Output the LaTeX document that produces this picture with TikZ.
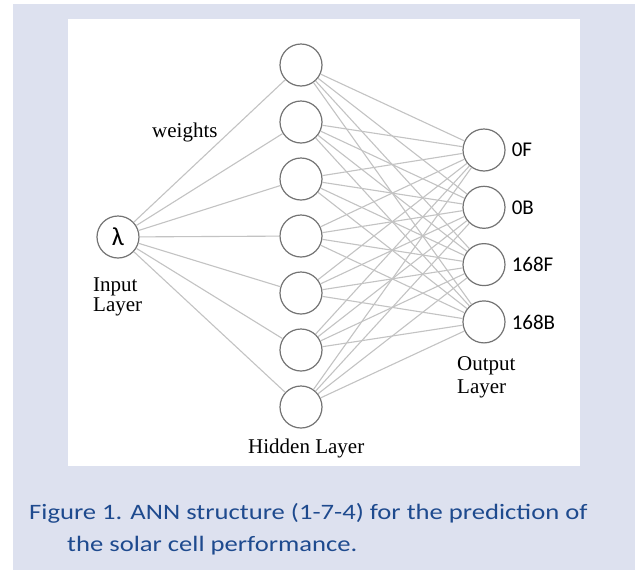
\documentclass[tikz,border=0pt]{standalone}
\usepackage{fontspec}
\setmainfont{Liberation Serif}
\newfontfamily\capfont{Carlito}
\newfontfamily\capwide[FakeStretch=1.21]{Carlito}

\definecolor{panelbg}{RGB}{221,225,239}
\definecolor{capblue}{RGB}{30,74,142}
\definecolor{linkgray}{RGB}{195,195,195}
\definecolor{ringgray}{RGB}{115,115,115}

\tikzset{
  neuron/.style={circle, draw=ringgray, line width=1.2pt, fill=white, minimum size=42pt, inner sep=0pt},
  link/.style={linkgray, line width=1.1pt},
  lbl/.style={inner sep=0pt, anchor=base west, font=\fontsize{21}{23}\selectfont},
  outlbl/.style={inner sep=0pt, anchor=west, font=\capfont\fontsize{21}{21}\selectfont},
  caption/.style={inner sep=0pt, anchor=base west, text=capblue, font=\capwide\fontsize{22}{26}\selectfont}
}

\begin{document}
\begin{tikzpicture}[x=1pt,y=-1pt]
   \useasboundingbox (0,0) rectangle (635,571);
   \fill[panelbg] (13,4) rectangle (635,570);
   \fill[white] (68,19) rectangle (580,466);

   \node[neuron, font=\capfont\fontsize{26}{26}\selectfont] (in) at (118,237) {λ};
   \foreach \i in {1,...,7} \node[neuron] (h\i) at (301,{65+57*(\i-1)}) {};
   \foreach \j/\t in {1/0F,2/0B,3/168F,4/168B} {
      \node[neuron] (o\j) at (484,{150+57.3*(\j-1)}) {};
      \node[outlbl, xshift=6pt] (t\j) at (o\j.east) {\t};
   }

   \foreach \i in {1,...,7} \draw[link] (in) -- (h\i);
   \foreach \i in {1,...,7} \foreach \j in {1,...,4} \draw[link] (h\i) -- (o\j);

   \node[lbl] (wt) at (152,137) {weights};
   \node[lbl] (inlbl) at (93,291) {Input};
   \node[lbl] (inlbl2) at (93,311) {Layer};
   \node[lbl] (hidlbl) at (248,453) {Hidden Layer};
   \node[lbl] (outlbl) at (457,370) {Output};
   \node[lbl] (outlbl2) at (457,393) {Layer};

   \node[caption] (cap1) at (29,519) {Figure 1. ANN structure (1-7-4) for the prediction of};
   \node[caption] (cap2) at (67,551) {the solar cell performance.};
\end{tikzpicture}
\end{document}
